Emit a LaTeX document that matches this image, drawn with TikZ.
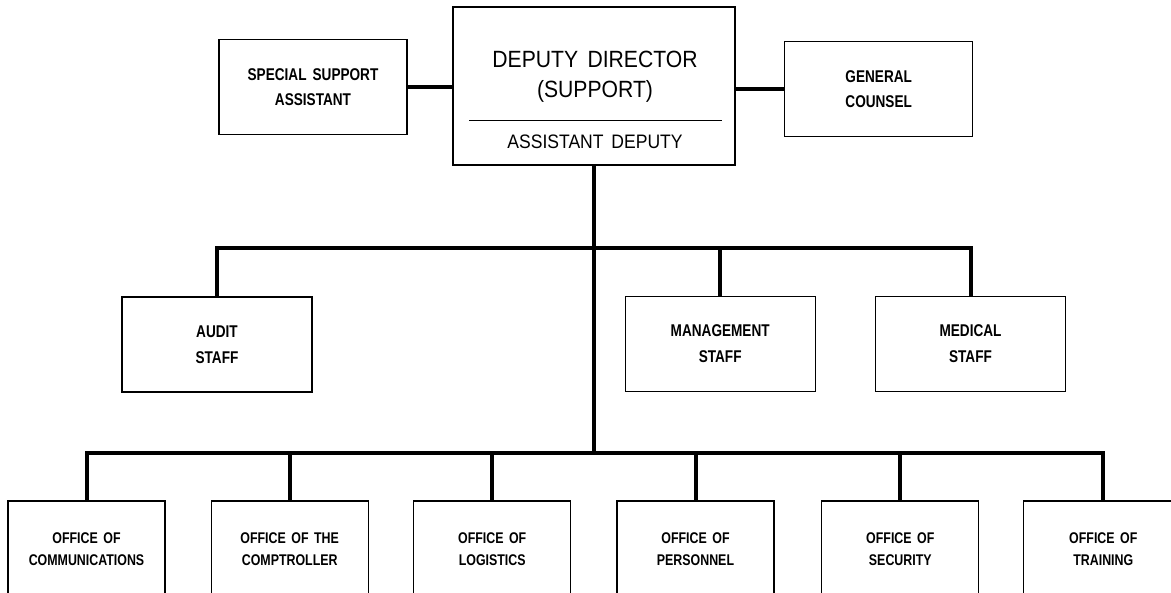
\documentclass[tikz,border=0pt]{standalone}
\usepackage{fontspec}
\setmainfont{Liberation Sans}
\newfontfamily\condb[FakeStretch=0.8,WordSpace=1.6]{Liberation Sans Bold}
\newfontfamily\condr[FakeStretch=0.9,WordSpace=1.6]{Liberation Sans}
\tikzset{
  box/.style={draw, line width=1.3pt, inner sep=0pt, align=center},
  bigbox/.style={draw, line width=2pt, inner sep=0pt, minimum width=282pt, minimum height=158pt},
  sidebox/.style={box, minimum width=188pt, minimum height=95pt,
    font=\condb\fontsize{17}{25}\selectfont},
  midbox/.style={box, minimum width=190pt, minimum height=95pt,
    font=\condb\fontsize{17}{26}\selectfont},
  lowbox/.style={box, minimum width=157pt, minimum height=96pt,
    font=\condb\fontsize{15.5}{22}\selectfont},
  toptext/.style={inner sep=0pt, align=center, font=\condr\fontsize{23.5}{30}\selectfont},
  subtext/.style={inner sep=0pt, font=\condr\fontsize{19.5}{22}\selectfont},
  conn/.style={line width=4pt}
}
\begin{document}
\begin{tikzpicture}[x=1pt, y=-1pt]
\path[fill=white] (0,0) rectangle (1171,593);
\useasboundingbox (0,0) rectangle (1171,593);
\clip (0,0) rectangle (1171,593);

% top box
\node[bigbox] (top) at (594.4,86.5) {};
\node[toptext] (toptxt) at (595,77) {DEPUTY DIRECTOR\\(SUPPORT)};
\node[subtext] (subtxt) at (595,142) {ASSISTANT DEPUTY};
\draw[line width=1pt] (469.3,121) -- (721.7,121);

% side boxes
\node[sidebox] (special) at (313,86.9) {SPECIAL SUPPORT\\ASSISTANT};
\node[sidebox] (counsel) at (878.7,89.2) {GENERAL\\COUNSEL};

% middle boxes
\node[midbox] (audit) at (217,344.5) {AUDIT\\STAFF};
\node[midbox] (mgmt) at (720.2,343.9) {MANAGEMENT\\STAFF};
\node[midbox] (medical) at (970.5,343.9) {MEDICAL\\STAFF};

% bottom boxes
\node[lowbox] (comm) at (86.5,549) {OFFICE OF\\COMMUNICATIONS};
\node[lowbox] (compt) at (289.7,549) {OFFICE OF THE\\COMPTROLLER};
\node[lowbox] (logis) at (492.2,549) {OFFICE OF\\LOGISTICS};
\node[lowbox] (pers) at (695.5,549) {OFFICE OF\\PERSONNEL};
\node[lowbox] (secur) at (900.3,549) {OFFICE OF\\SECURITY};
\node[lowbox, minimum width=160pt] (train) at (1103.3,549) {OFFICE OF\\TRAINING};

% bus coordinates
\coordinate (bus1) at (594.4,248.3);
\coordinate (bus2) at (594.4,453.3);

% connectors
\draw[conn] (special.east) -- (special.east -| top.west);
\draw[conn] (counsel.west) -- (counsel.west -| top.east);
\draw[conn] (top.south) -- (bus2);
\draw[conn] (audit.north) -- (audit.north |- bus1) -- (medical.north |- bus1) -- (medical.north);
\draw[conn] (mgmt.north) -- (mgmt.north |- bus1);
\draw[conn] (comm.north) -- (comm.north |- bus2) -- (train.north |- bus2) -- (train.north);
\draw[conn] (compt.north) -- (compt.north |- bus2);
\draw[conn] (logis.north) -- (logis.north |- bus2);
\draw[conn] (pers.north) -- (pers.north |- bus2);
\draw[conn] (secur.north) -- (secur.north |- bus2);
\end{tikzpicture}
\end{document}
